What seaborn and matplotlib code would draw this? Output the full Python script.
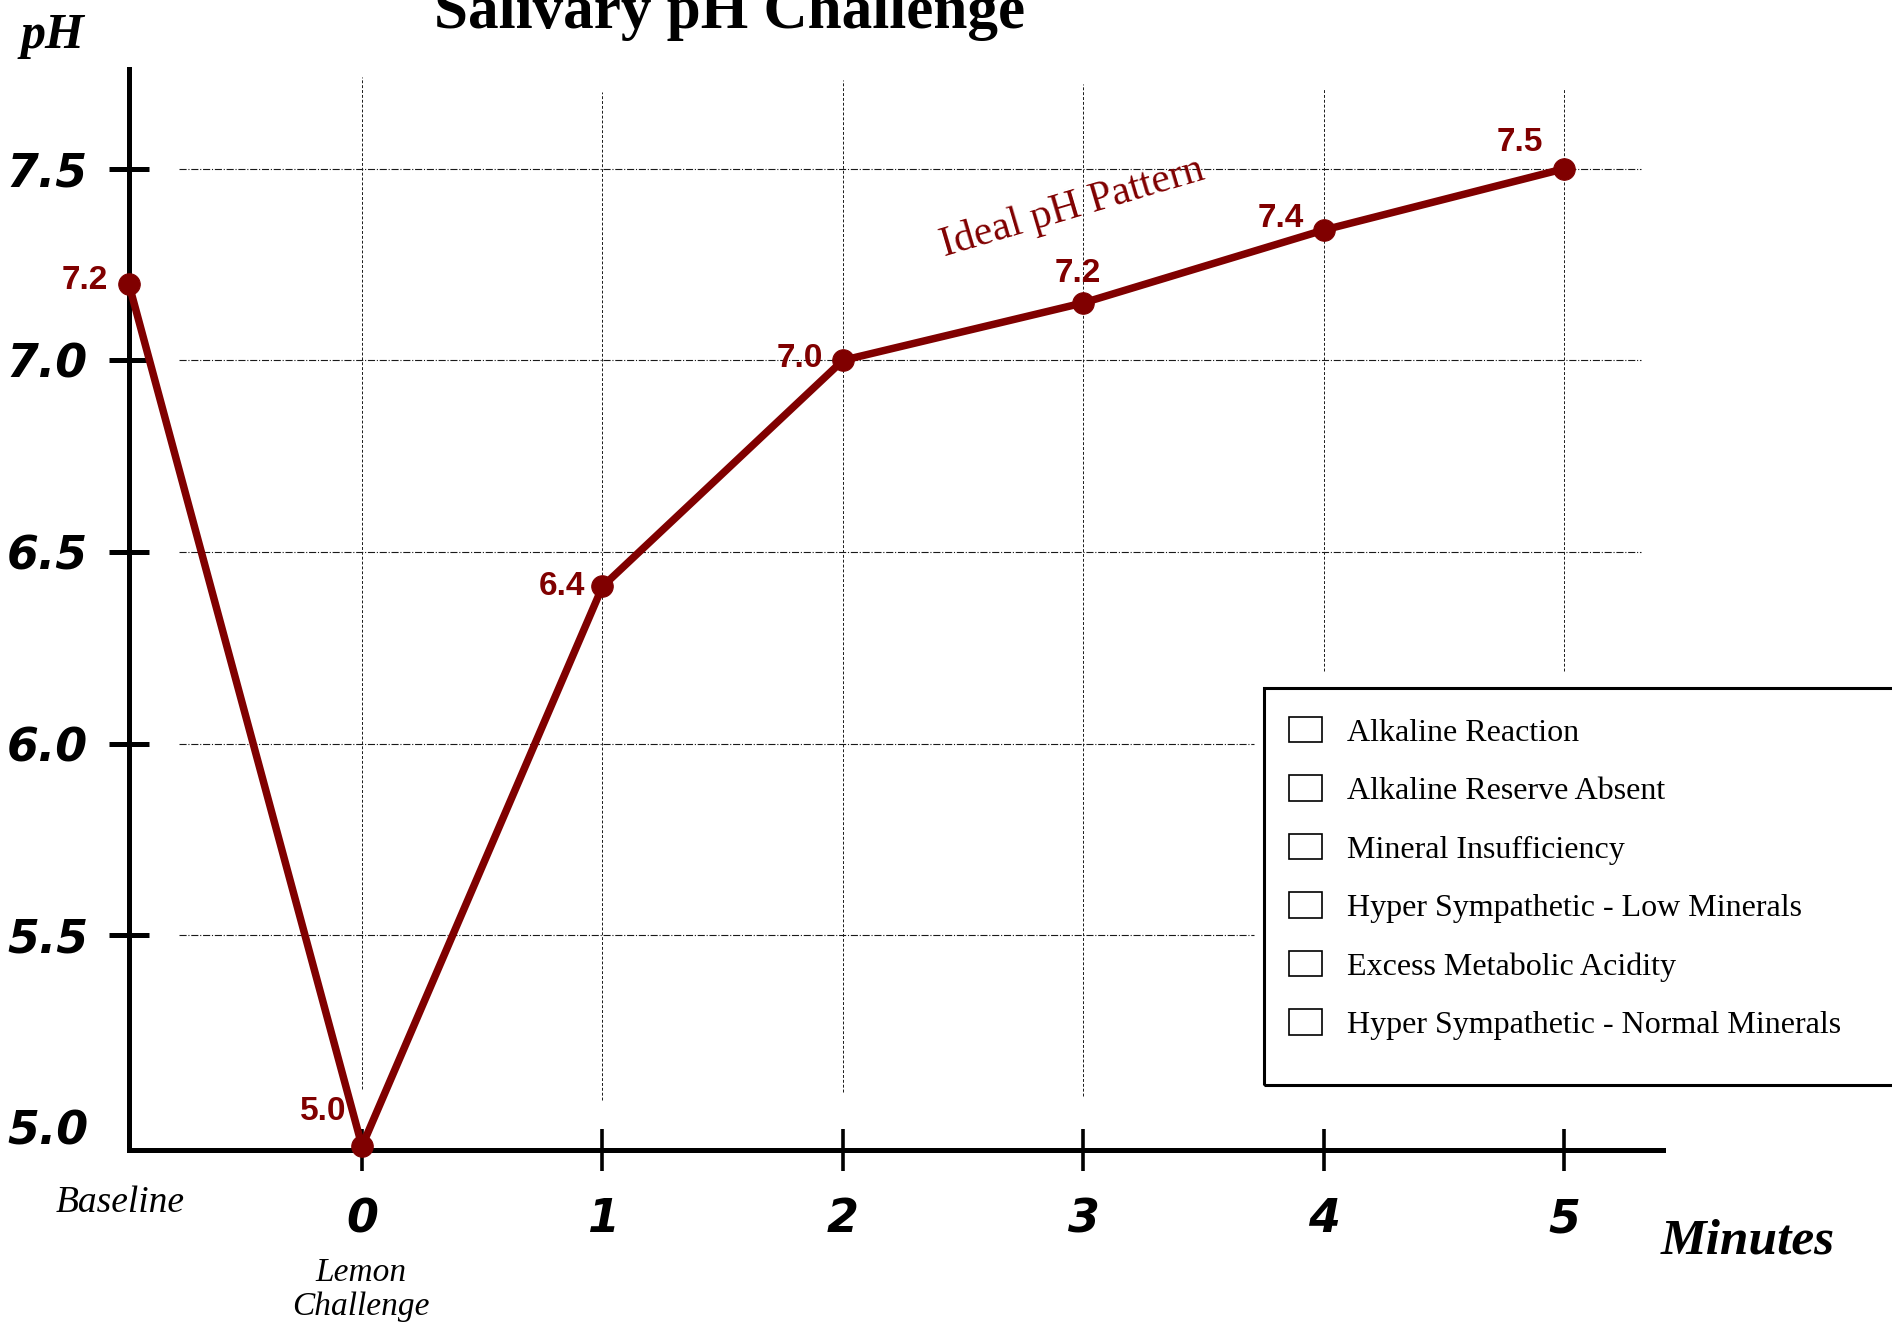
import numpy as np
import seaborn as sns
import matplotlib.pyplot as plt
from matplotlib.patches import Patch, Rectangle

# ---- data ----
minutes = [-0.97, 0, 1, 2, 3, 4, 5]
ph = [7.2, 4.95, 6.41, 7.0, 7.15, 7.34, 7.5]
ph_labels = ["7.2", "5.0", "6.4", "7.0", "7.2", "7.4", "7.5"]
# label offsets (points) from each marker
lab_dx = [-32, -28, -29, -31, -4, -31, -32]
lab_dy = [2, 25, 0, 1, 21, 8, 19]

yticks = [5.0, 5.5, 6.0, 6.5, 7.0, 7.5]
xticks = [0, 1, 2, 3, 4, 5]

legend_items = ["Alkaline Reaction", "Alkaline Reserve Absent", "Mineral Insufficiency",
                "Hyper Sympathetic - Low Minerals", "Excess Metabolic Acidity",
                "Hyper Sympathetic - Normal Minerals"]

# grid extents
hgrid_y = [7.5, 7.0, 6.5, 6.0, 5.5]
hgrid_x1 = [5.32, 5.32, 5.32, 3.71, 3.71]
vgrid_lo = [5.10, 5.07, 5.09, 5.08, 6.19, 6.19]
vgrid_hi = [7.74, 7.70, 7.73, 7.72, 7.71, 7.71]

red = "#800000"
sns.set_theme(style="white")
plt.rcParams['font.family'] = ['Liberation Serif', 'DejaVu Serif']
plt.rcParams['text.color'] = 'black'
plt.rcParams['axes.labelcolor'] = 'black'

fig = plt.figure(figsize=(18.92, 13.22), dpi=100)
ax = fig.add_axes([129/1892, 172/1322, (1663-129)/1892, (1253-172)/1322])
ax.set_xlim(-0.969, 5.41)
ax.set_ylim(4.94, 7.76)

for i in range(len(hgrid_y)):
	ax.hlines(hgrid_y[i], -0.763, hgrid_x1[i], colors="#1a1a1a", linestyles="-.", linewidth=0.8)
ax.vlines(xticks, vgrid_lo, vgrid_hi, colors="#1a1a1a", linestyles=(0, (3, 2)), linewidth=0.7)

sns.lineplot(x=minutes, y=ph, ax=ax, color=red, linewidth=5.4, marker='o', markersize=15.5,
	markeredgecolor=red, sort=False, clip_on=False, zorder=5)

for i in range(len(minutes)):
	ax.annotate(ph_labels[i], (minutes[i], ph[i]), xytext=(lab_dx[i], lab_dy[i]), textcoords='offset points',
		ha='center', va='center', color=red, fontsize=24, fontweight='bold', family='Liberation Sans')

ax.text(2.956, 7.398, "Ideal pH Pattern", rotation=16.5, ha='center', va='center', color=red, fontsize=30,
	rotation_mode='anchor')

# axes styling
for s in ['top', 'right']:
	ax.spines[s].set_visible(False)
for s in ['left', 'bottom']:
	ax.spines[s].set_color('black')
	ax.spines[s].set_linewidth(3.6)
ax.set_yticks(yticks)
ax.set_yticklabels([f"{v:.1f}" for v in yticks])
ax.set_xticks(xticks)
ax.set_xticklabels([str(v) for v in xticks])
ax.tick_params(axis='y', direction='inout', length=29, width=3.6, pad=15, colors='black', left=True)
ax.tick_params(axis='x', direction='inout', length=30, width=2.6, pad=19, colors='black', bottom=True)
ax.yaxis.get_major_ticks()[0].tick1line.set_visible(False)
for t in ax.get_yticklabels() + ax.get_xticklabels():
	t.set_family('DejaVu Sans')
	t.set_fontweight('bold')
	t.set_fontstyle('italic')
	t.set_fontsize(33)

ax.annotate("Baseline", (minutes[0], 0), xycoords=('data', 'axes fraction'), xytext=(-6, -45),
	textcoords='offset points', ha='center', va='baseline', fontsize=27, style='italic')
ax.annotate("Lemon", (0, 0), xycoords=('data', 'axes fraction'), xytext=(-1, -94),
	textcoords='offset points', ha='center', va='baseline', fontsize=24, style='italic')
ax.annotate("Challenge", (0, 0), xycoords=('data', 'axes fraction'), xytext=(-1, -119),
	textcoords='offset points', ha='center', va='baseline', fontsize=24, style='italic')

fig.text(730/1892, 1 - 28/1322, "Salivary pH Challenge", ha='center', va='baseline', fontsize=44, fontweight='bold')
fig.text(52/1892, 1 - 48/1322, "pH", ha='center', va='baseline', fontsize=36, fontweight='bold', style='italic')
fig.text(1748/1892, 1 - 1253/1322, "Minutes", ha='center', va='baseline', fontsize=37, fontweight='bold', style='italic')

# legend box with empty check boxes
fig.patches.append(Rectangle((1264/1892, 1 - 1085/1322), 0.4, (1085-688)/1322, transform=fig.transFigure,
	fill=False, edgecolor='black', linewidth=2.2))
handles = [Patch(facecolor='white', edgecolor='black', linewidth=1.2) for _ in legend_items]
fig.legend(handles, legend_items, loc='upper left', bbox_to_anchor=(1289/1892, 1 - 717/1322), frameon=False,
	fontsize=23, borderpad=0, borderaxespad=0, handlelength=1.03, handleheight=0.84, handletextpad=0.8,
	labelspacing=0.87)

fig.savefig("out.png", dpi=100)
